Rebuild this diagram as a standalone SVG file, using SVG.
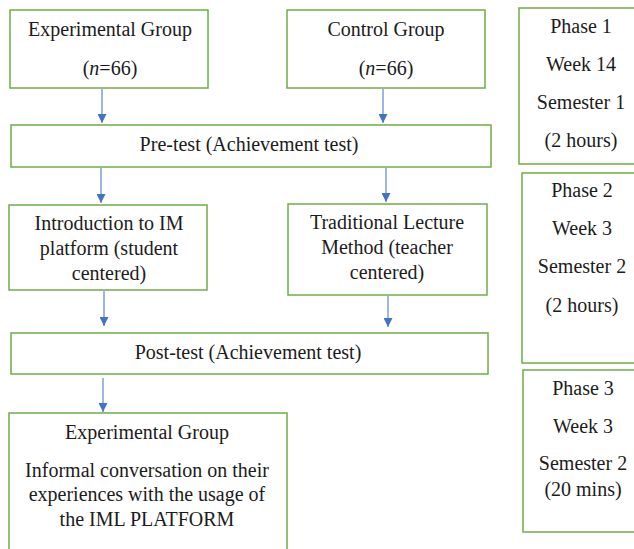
<svg xmlns="http://www.w3.org/2000/svg" width="634" height="549" viewBox="0 0 634 549" font-family="Liberation Serif, serif">
<style>
.box{fill:#fff;stroke:#70AD47;stroke-width:1.5}
text{font-size:20px;fill:#1c1c1c;text-anchor:middle}
.ln{stroke:#7E9FD8;stroke-width:1.5;fill:none}
</style>
<defs>
<marker id="ah" markerWidth="9" markerHeight="9" refX="9" refY="4.5" orient="auto" markerUnits="userSpaceOnUse">
<path d="M0,0 L9,4.5 L0,9 Z" fill="#4472C4"/>
</marker>
</defs>
<rect width="634" height="549" fill="#fff"/>
<g id="exp-group">
<rect class="box" x="10" y="10" width="198" height="78"/>
<text x="110" y="36">Experimental Group</text>
<text x="110" y="75">(<tspan font-style="italic">n</tspan>=66)</text>
</g>
<g id="ctrl-group">
<rect class="box" x="287" y="10" width="198" height="78"/>
<text x="386" y="36">Control Group</text>
<text x="386" y="75">(<tspan font-style="italic">n</tspan>=66)</text>
</g>
<g id="phase1">
<rect class="box" x="519" y="8" width="130" height="156"/>
<text x="581" y="33">Phase 1</text>
<text x="581" y="71">Week 14</text>
<text x="581" y="109">Semester 1</text>
<text x="581" y="147">(2 hours)</text>
</g>
<g id="pretest">
<rect class="box" x="11" y="125" width="480" height="42"/>
<text x="249" y="151">Pre-test (Achievement test)</text>
</g>
<g id="intro">
<rect class="box" x="9" y="205" width="198" height="85"/>
<text x="109" y="230">Introduction to IM</text>
<text x="109" y="255">platform (student</text>
<text x="109" y="280">centered)</text>
</g>
<g id="traditional">
<rect class="box" x="288" y="204" width="199" height="91"/>
<text x="387" y="229">Traditional Lecture</text>
<text x="387" y="254">Method (teacher</text>
<text x="387" y="279">centered)</text>
</g>
<g id="phase2">
<rect class="box" x="522" y="173" width="130" height="190"/>
<text x="582" y="197">Phase 2</text>
<text x="582" y="235">Week 3</text>
<text x="582" y="273">Semester 2</text>
<text x="582" y="312">(2 hours)</text>
</g>
<g id="posttest">
<rect class="box" x="11" y="333" width="477" height="41"/>
<text x="248" y="359">Post-test (Achievement test)</text>
</g>
<g id="final">
<rect class="box" x="9" y="413" width="278" height="150"/>
<text x="147" y="439">Experimental Group</text>
<text x="147" y="477">Informal conversation on their</text>
<text x="147" y="501">experiences with the usage of</text>
<text x="147" y="526">the IML PLATFORM</text>
</g>
<g id="phase3">
<rect class="box" x="523" y="370" width="130" height="162"/>
<text x="583" y="395">Phase 3</text>
<text x="583" y="433">Week 3</text>
<text x="583" y="470">Semester 2</text>
<text x="583" y="496">(20 mins)</text>
</g>
<g id="connectors">
<line class="ln" x1="102" y1="89" x2="102" y2="123" marker-end="url(#ah)"/>
<line class="ln" x1="383" y1="89" x2="383" y2="123" marker-end="url(#ah)"/>
<line class="ln" x1="101" y1="168" x2="101" y2="203" marker-end="url(#ah)"/>
<line class="ln" x1="386" y1="168" x2="386" y2="202" marker-end="url(#ah)"/>
<line class="ln" x1="104" y1="291" x2="104" y2="326" marker-end="url(#ah)"/>
<line class="ln" x1="388" y1="296" x2="388" y2="327" marker-end="url(#ah)"/>
<line class="ln" x1="103" y1="378" x2="103" y2="412" marker-end="url(#ah)"/>
</g>
</svg>
